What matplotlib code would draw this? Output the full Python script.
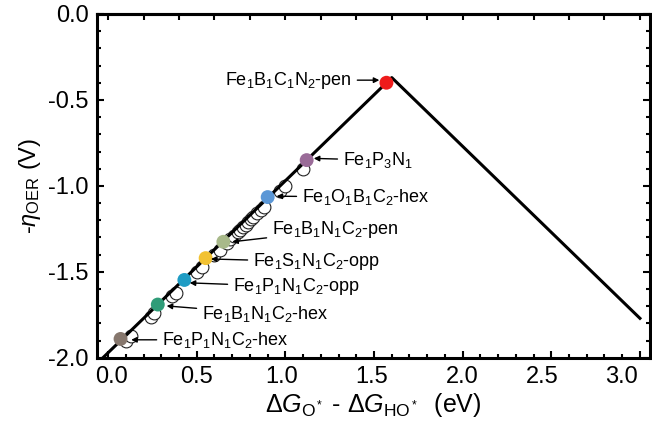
import matplotlib
matplotlib.use("Agg")
import matplotlib.pyplot as plt
import matplotlib.transforms as mtransforms
from matplotlib.ticker import MultipleLocator

plt.rcParams['font.family'] = ['Liberation Sans', 'DejaVu Sans']
plt.rcParams['mathtext.fontset'] = 'custom'
plt.rcParams['mathtext.rm'] = 'Liberation Sans'
plt.rcParams['mathtext.it'] = 'Liberation Sans:italic'
plt.rcParams['axes.unicode_minus'] = False

# Volcano line (limiting potential)
line_x = [-0.03, 1.60, 3.00]
line_y = [-2.00, -0.37, -1.77]

# Other candidates (white circles)
white_x = [0.10, 0.13, 0.24, 0.26, 0.36, 0.38, 0.50, 0.53, 0.60, 0.63,
           0.67, 0.69, 0.71, 0.73, 0.745, 0.76, 0.775, 0.79, 0.805, 0.82,
           0.84, 0.86, 0.88, 0.97, 1.00, 1.10]
white_y = [-1.90, -1.87, -1.76, -1.74, -1.64, -1.62, -1.50, -1.47,
           -1.40, -1.37, -1.33, -1.31, -1.29, -1.27, -1.255, -1.24,
           -1.225, -1.21, -1.195, -1.18, -1.16, -1.14, -1.12, -1.03,
           -1.00, -0.90]

# Highlighted structures
names = ['Fe$_1$B$_1$C$_1$N$_2$-pen', 'Fe$_1$P$_3$N$_1$', 'Fe$_1$O$_1$B$_1$C$_2$-hex',
         'Fe$_1$B$_1$N$_1$C$_2$-pen', 'Fe$_1$S$_1$N$_1$C$_2$-opp',
         'Fe$_1$P$_1$N$_1$C$_2$-opp', 'Fe$_1$B$_1$N$_1$C$_2$-hex',
         'Fe$_1$P$_1$N$_1$C$_2$-hex']
pt_x = [1.57, 1.12, 0.90, 0.65, 0.55, 0.43, 0.28, 0.07]
pt_y = [-0.40, -0.85, -1.065, -1.325, -1.42, -1.547, -1.69, -1.89]
colors = ['#ee1b1b', '#9a6b98', '#5b97d6', '#a8b98a', '#f2c232',
          '#1f9cc4', '#2f9c78', '#86776d']

# arrow tips and label positions
tip_x = [1.53, 1.16, 0.95, 0.70, 0.58, 0.46, 0.33, 0.13]
tip_y = [-0.385, -0.84, -1.06, -1.325, -1.425, -1.564, -1.698, -1.895]
lab_x = [0.66, 1.325, 1.094, 0.925, 0.818, 0.705, 0.53, 0.305]
lab_y = [-0.385, -0.85, -1.064, -1.256, -1.442, -1.587, -1.744, -1.895]

# small horizontal nudges (px) of the x tick labels, as in the original
xlabel_shift = [3, 0, -4, -2, 0, -9, -18]

fig = plt.figure(figsize=(6.52, 4.23), dpi=100)
ax = fig.add_axes([0.149, 0.154, 0.848, 0.813])

ax.scatter(white_x, white_y, s=85, facecolor='white', edgecolor='#222222',
           linewidth=0.8, zorder=2)
ax.plot(line_x, line_y, color='black', lw=2.2, zorder=3)
ax.scatter(pt_x, pt_y, s=100, c=colors, edgecolor='none', zorder=4)

for name, tx, ty, lx, ly in zip(names, tip_x, tip_y, lab_x, lab_y):
    ax.annotate(name, xy=(tx, ty), xytext=(lx, ly), ha='left', va='center',
                fontsize=13,
                arrowprops=dict(arrowstyle='-|>', color='black', lw=1.0,
                                mutation_scale=8, shrinkA=2, shrinkB=0),
                zorder=5)

ax.set_xlim(-0.062, 3.057)
ax.set_ylim(-2.0, 0.0)
ax.xaxis.set_major_locator(MultipleLocator(0.5))
ax.xaxis.set_minor_locator(MultipleLocator(0.1))
ax.yaxis.set_major_locator(MultipleLocator(0.5))
ax.yaxis.set_minor_locator(MultipleLocator(0.1))
ax.xaxis.set_major_formatter(plt.FormatStrFormatter('%.1f'))
ax.yaxis.set_major_formatter(plt.FormatStrFormatter('%.1f'))

ax.tick_params(which='both', direction='in', right=True, top=False,
               labelsize=17, width=1.5, pad=6)
ax.tick_params(which='major', length=5)
ax.tick_params(which='minor', length=3)

top = ax.secondary_xaxis('top')
top.xaxis.set_major_locator(MultipleLocator(0.2))
top.tick_params(direction='in', length=4, width=1.5, labeltop=False)

for sp in ax.spines.values():
    sp.set_linewidth(2.2)
top.spines['top'].set_linewidth(2.2)

ax.set_xlabel(r'$\Delta G_{\mathrm{O^*}}$ - $\Delta G_{\mathrm{HO^*}}$  (eV)',
              fontsize=18, labelpad=2)
ax.set_ylabel(r'-$\eta_{\mathrm{OER}}$ (V)', fontsize=17, labelpad=4)

fig.canvas.draw()
labels = [t for t in ax.get_xticklabels()
          if -0.01 <= t.get_position()[0] <= 3.01]
for lab, dx in zip(labels, xlabel_shift):
    lab.set_transform(lab.get_transform() +
                      mtransforms.ScaledTranslation(dx / 100, 0, fig.dpi_scale_trans))

fig.savefig('out.png', dpi=100)
